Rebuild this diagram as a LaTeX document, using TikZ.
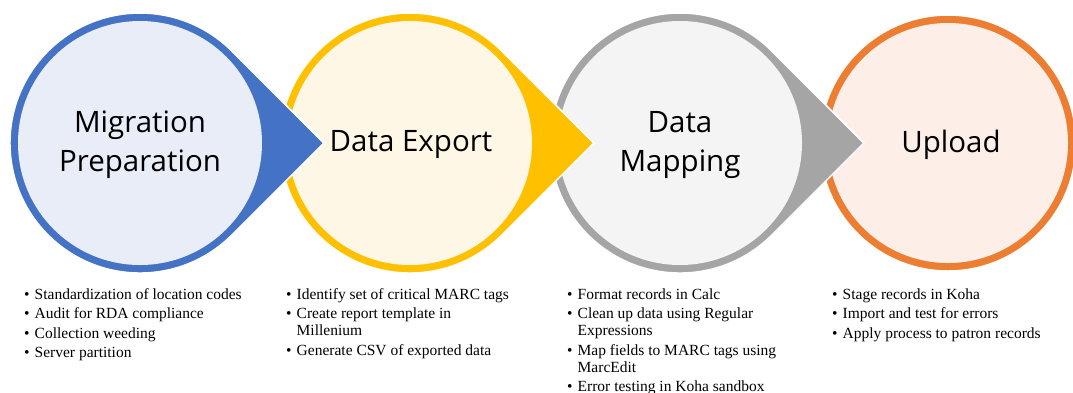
\documentclass[tikz,border=0pt]{standalone}
\usepackage{fontspec}
\setmainfont{Liberation Serif}
\newfontfamily\headfont{Open Sans}

\definecolor{stepblue}{HTML}{4472C4}
\definecolor{stepblueL}{HTML}{E9EDF7}
\definecolor{stepgold}{HTML}{FFC000}
\definecolor{stepgoldL}{HTML}{FFF7E6}
\definecolor{stepgray}{HTML}{A5A5A5}
\definecolor{stepgrayL}{HTML}{F4F4F4}
\definecolor{steporange}{HTML}{ED7D31}
\definecolor{steporangeL}{HTML}{FDEFE7}

% bullet with a fixed-width box so wrapped lines align with the text
\newcommand{\blt}{\makebox[10.5pt][l]{\textbullet}}
\newcommand{\cont}{\hspace*{10.5pt}}

\tikzset{
  drop/.style={fill=#1, draw=white, line width=1.5pt},
  title/.style={font=\headfont\fontsize{29.5}{39}\selectfont, align=center, text=black, inner sep=0pt},
  bullets/.style={font=\fontsize{15.5}{17}\selectfont, anchor=north west, align=left, inner sep=0pt}
}

\begin{document}
\begin{tikzpicture}[x=1pt,y=-1pt]
\useasboundingbox (0,0) rectangle (1073,392);
\clip (0,0) rectangle (1073,392);

% stage 4: plain circle (rightmost, drawn first)
\path[drop=steporange] (948,143) circle[radius=128];
\fill[steporangeL] (948,143) circle[radius=120];

% stage 3 teardrop
\path[drop=stepgray] (863.8,143) -- (771.9,51.1) arc[start angle=315, end angle=45, radius=130] -- cycle;
\fill[stepgrayL] (680,143) circle[radius=122];

% stage 2 teardrop
\path[drop=stepgold] (593.8,143) -- (501.9,51.1) arc[start angle=315, end angle=45, radius=130] -- cycle;
\fill[stepgoldL] (410,143) circle[radius=122];

% stage 1 teardrop
\path[drop=stepblue] (323.8,143) -- (231.9,51.1) arc[start angle=315, end angle=45, radius=130] -- cycle;
\fill[stepblueL] (140,143) circle[radius=122];

% stage titles
\node[title] (t1) at (140,145) {Migration\\Preparation};
\node[title] (t2) at (411,145) {Data Export};
\node[title] (t3) at (680,145) {Data\\Mapping};
\node[title] (t4) at (951,145) {Upload};

% task lists
\node[bullets] (b1) at (24,287.1) {\strut\blt Standardization of location codes\\[2.5pt]
  \blt Audit for RDA compliance\\[2.5pt]
  \blt Collection weeding\\[2.5pt]
  \blt Server partition};
\node[bullets] (b2) at (286,287.1) {\strut\blt Identify set of critical MARC tags\\[2.5pt]
  \blt Create report template in\\
  \cont Millenium\\[2.5pt]
  \blt Generate CSV of exported data};
\node[bullets] (b3) at (567,287.1) {\strut\blt Format records in Calc\\[2.5pt]
  \blt Clean up data using Regular\\
  \cont Expressions\\[2.5pt]
  \blt Map fields to MARC tags using\\
  \cont MarcEdit\\[2.5pt]
  \blt Error testing in Koha sandbox};
\node[bullets] (b4) at (832,287.1) {\strut\blt Stage records in Koha\\[2.5pt]
  \blt Import and test for errors\\[2.5pt]
  \blt Apply process to patron records};
\end{tikzpicture}
\end{document}
